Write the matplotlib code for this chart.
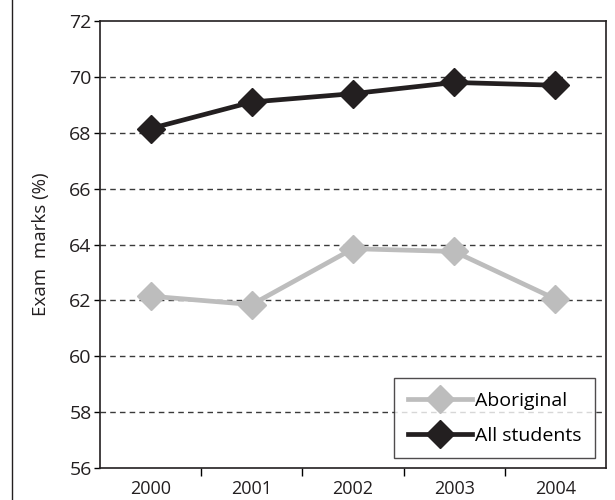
import matplotlib
matplotlib.use("Agg")
import matplotlib.pyplot as plt
from matplotlib.lines import Line2D

plt.rcParams['font.family'] = ['Open Sans', 'DejaVu Sans']

years = ["2000", "2001", "2002", "2003", "2004"]
aboriginal = [62.15, 61.85, 63.85, 63.75, 62.05]
all_students = [68.15, 69.1, 69.4, 69.8, 69.7]

fig = plt.figure(figsize=(6.15, 5), dpi=100)
ax = fig.add_axes([100 / 615, 1 - 468 / 500, 506 / 615, 447 / 500])

x = list(range(len(years)))
ax.plot(x, aboriginal, color="#bdbdbd", lw=3.4, marker="D", ms=14,
        mfc="#bdbdbd", mec="#bdbdbd", label="Aboriginal", zorder=3)
ax.plot(x, all_students, color="#231f20", lw=3.4, marker="D", ms=14,
        mfc="#231f20", mec="#231f20", label="All students", zorder=4)

ax.set_xlim(-0.5, len(years) - 0.5)
ax.set_ylim(56, 72)
ax.set_yticks(range(56, 73, 2))
ax.set_xticks(x)
ax.set_xticklabels(years)
ax.set_xticks([i + 0.5 for i in x[:-1]], minor=True)
ax.tick_params(axis="x", which="major", length=0, pad=9, labelsize=13,
               labelcolor="#231f20")
ax.tick_params(axis="x", which="minor", length=6, width=1, direction="out")
ax.tick_params(axis="y", length=4, width=1, labelsize=14, pad=2,
               labelcolor="#231f20")

for v in range(58, 71, 2):
    ax.axhline(v, color="#3a3a3a", lw=1.0, ls=(0, (4, 3)), zorder=1)

for s in ax.spines.values():
    s.set_linewidth(1.2)
    s.set_color("#231f20")

ax.set_ylabel("Exam  marks (%)", fontsize=13.5, labelpad=14, color="#231f20")

leg = ax.legend(loc="lower right", fontsize=14, frameon=True, fancybox=False,
                handlelength=3.3, borderpad=0.7, handletextpad=0.15,
                labelspacing=0.85, borderaxespad=0, bbox_to_anchor=(0.978, 0.022))
leg.get_frame().set_edgecolor("#231f20")
leg.get_frame().set_linewidth(1.0)

# left border of the panel
fig.add_artist(Line2D([12 / 615, 12 / 615], [0, 1], color="#231f20", lw=1.0))

fig.savefig("out.png", dpi=100)
